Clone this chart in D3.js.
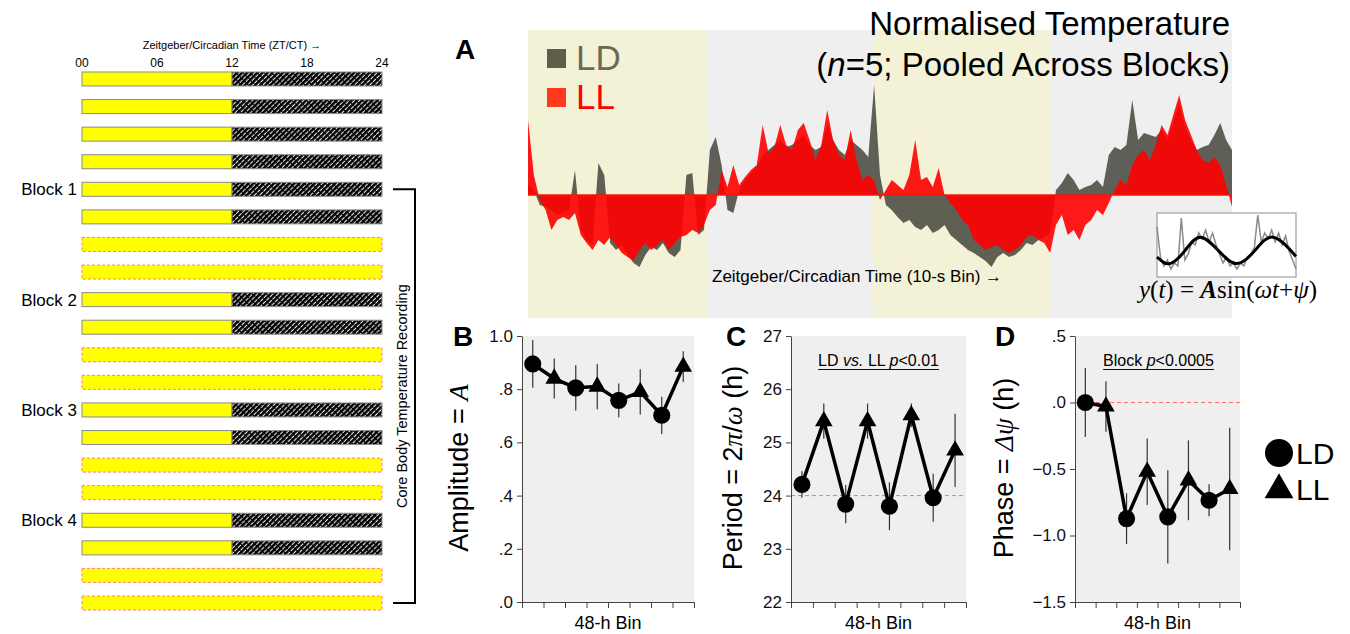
<!DOCTYPE html>
<meta charset="utf-8">
<html>
<head>
  <title>Normalised Temperature</title>
  <style>
    body { margin: 0; background: #fff; }
    svg { display: block; font-family: "Liberation Sans", Arial, sans-serif; }
  </style>
</head>
<body>
<script src="https://d3js.org/d3.v7.min.js"></script>
<script>

/*
    Data
*/
// left schedule: one row per day
var scheduleRows = ["LD","LD","LD","LD","LD","LD","LL","LL","LD","LD",
                    "LL","LL","LD","LD","LL","LL","LD","LD","LL","LL"];
var blockRows = [4, 8, 12, 16];
var blockNames = ["Block 1", "Block 2", "Block 3", "Block 4"];
var ztTicks = [0, 6, 12, 18, 24];
var ztLabels = ["00", "06", "12", "18", "24"];

// panel A: 48 h, one value every 0.4 h
var hours = d3.range(121).map(function(i){ return i * 0.4; });
var bandStart = [0, 12.2, 23.5, 35.6];
var bandEnd   = [12.2, 23.5, 35.6, 48];
var bandPhase = ["light", "dark", "light", "dark"];

var ldTemp = [0.20,0.10,-0.20,-0.24,-0.30,-0.40,-0.36,-0.30,0.50,-0.70,
  -0.90,-1.00,0.64,0.40,-0.96,-1.10,-1.00,-1.20,-1.36,-1.44,
  -1.20,-1.04,-1.10,-0.96,-1.16,-1.24,-1.10,0.40,0.44,-0.80,
  -0.70,0.90,1.16,0.60,-0.30,-0.36,0.10,0.30,0.44,0.56,
  0.80,0.90,1.00,1.10,0.96,1.00,1.10,1.20,1.00,0.90,
  0.96,1.40,1.10,0.90,0.80,1.10,1.00,0.90,0.76,2.20,
  0.40,-0.20,-0.30,-0.44,-0.56,-0.50,-0.64,-0.70,-0.60,-0.76,
  -0.70,-0.60,-0.80,-0.90,-1.00,-1.10,-1.16,-1.24,-1.32,-1.44,
  -1.24,-1.16,-1.24,-1.20,-1.10,-0.96,-1.00,-0.90,-0.84,-0.76,
  0.10,0.24,0.44,0.30,0.10,0.16,0.20,0.30,0.16,0.80,
  0.96,0.90,1.00,1.90,1.10,1.24,1.20,1.16,1.30,1.10,
  1.44,1.80,1.36,1.10,0.90,0.96,1.00,1.20,1.44,1.10,
  0.90];

var llTemp = [1.50,0.40,-0.10,-0.30,-0.70,-0.50,-0.44,-0.50,-0.36,-0.80,
  -0.96,-1.10,-0.90,-1.00,-0.84,-1.00,-1.16,-1.24,-1.32,-1.10,
  -0.96,-1.10,-1.00,-0.90,-1.10,-0.96,-0.84,-0.80,-0.70,-0.76,
  -0.60,-0.30,-0.20,0.50,0.16,0.60,0.20,0.36,0.50,0.60,
  1.40,0.84,0.96,1.40,1.00,0.90,1.30,1.44,1.10,0.70,
  1.00,1.70,1.10,0.80,0.70,1.30,0.70,0.30,0.40,0.30,
  -0.10,0.10,0.30,0.20,0.10,0.40,1.10,0.30,0.36,0.16,
  0.54,0.00,-0.16,-0.30,-0.50,-0.60,-0.90,-1.00,-1.10,-1.04,
  -1.00,-1.10,-1.16,-1.10,-1.00,-0.84,-0.80,-0.90,-0.96,-1.16,
  -0.60,-0.40,-0.80,-0.70,-0.90,-0.60,-0.50,-0.30,-0.40,-0.16,
  0.10,0.30,0.20,0.60,0.80,0.90,0.70,1.00,1.40,1.20,
  1.60,2.00,1.50,1.20,0.90,0.70,0.64,0.76,0.60,0.20,
  -0.24];

// inset: raw trace and fitted sinusoid (levels 0..1 of the inset box)
var insetTrace = [0.80,0.30,0.15,0.25,0.10,0.20,0.15,0.95,0.25,0.35,
  0.55,0.50,0.70,0.60,0.75,0.55,0.70,0.50,0.35,0.20,
  0.30,0.15,0.20,0.10,0.20,0.15,0.30,0.35,0.45,1.00,
  0.55,0.70,0.60,0.75,0.55,0.70,0.50,0.65,0.40,0.25,0.10];
var fitX = [0, 3.7, 8.1, 12.4, 17.6, 23.0, 28.2, 33.4, 40];
var fitY = [0.30, 0.19, 0.41, 0.63, 0.41, 0.19, 0.41, 0.63, 0.31];

// panels B-D: eight 48-h bins, alternating LD / LL
var binGroup = ["LD","LL","LD","LL","LD","LL","LD","LL"];
var ampMean = [0.895, 0.84, 0.805, 0.81, 0.758, 0.79, 0.702, 0.885];
var ampSem  = [0.09, 0.075, 0.085, 0.085, 0.063, 0.085, 0.07, 0.058];
var perMean = [24.21, 25.40, 23.84, 25.40, 23.80, 25.51, 23.96, 24.85];
var perSem  = [0.25, 0.33, 0.36, 0.33, 0.45, 0.22, 0.45, 0.69];
var phaMean = [0.0, -0.03, -0.873, -0.52, -0.86, -0.585, -0.735, -0.65];
var phaSem  = [0.26, 0.19, 0.19, 0.25, 0.35, 0.30, 0.12, 0.46];

var ampTicks = [0, 0.2, 0.4, 0.6, 0.8, 1.0];
var perTicks = [22, 23, 24, 25, 26, 27];
var phaTicks = [-1.5, -1.0, -0.5, 0, 0.5];

var svg = d3.select("body").append("svg")
    .attr("width", 1350)
    .attr("height", 634);

var defs = svg.append("defs");

/*
    Left: light schedule
*/
var hatch = defs.append("pattern")
    .attr("id", "hatch")
    .attr("patternUnits", "userSpaceOnUse")
    .attr("width", 3.6)
    .attr("height", 10)
    .attr("patternTransform", "rotate(45)");
hatch.append("rect").attr("width", 3.6).attr("height", 10).attr("fill", "#000");
hatch.append("line")
    .attr("x1", 1.2).attr("y1", 0).attr("x2", 1.2).attr("y2", 10)
    .attr("stroke", "#fff")
    .attr("stroke-width", 1)
    .attr("stroke-dasharray", "4,1");

var zx = d3.scaleLinear().domain([0, 24]).range([82, 382]);
var rowY = d3.scaleLinear().domain([0, 19]).range([72, 596]);
var barH = 14;

var sched = svg.append("g").attr("class", "schedule");

sched.append("text")
    .attr("x", zx(12)).attr("y", 49)
    .attr("text-anchor", "middle")
    .style("font-size", "11px")
    .text("Zeitgeber/Circadian Time (ZT/CT) \u2192");

sched.selectAll("text.zt")
    .data(ztTicks)
  .enter().append("text")
    .attr("class", "zt")
    .attr("x", function(d){ return zx(d); })
    .attr("y", 67)
    .attr("text-anchor", "middle")
    .style("font-size", "12px")
    .text(function(d, i){ return ztLabels[i]; });

scheduleRows.forEach(function(type, i){
  var y0 = rowY(i);
  if (type == "LD") {
    sched.append("rect")
        .attr("x", zx(0)).attr("y", y0)
        .attr("width", zx(12) - zx(0)).attr("height", barH)
        .attr("fill", "#ffff00")
        .attr("stroke", "#8a8a8a");
    sched.append("rect")
        .attr("x", zx(12)).attr("y", y0)
        .attr("width", zx(24) - zx(12)).attr("height", barH)
        .attr("fill", "url(#hatch)")
        .attr("stroke", "#8a8a8a");
  } else {
    sched.append("rect")
        .attr("x", zx(0)).attr("y", y0)
        .attr("width", zx(24) - zx(0)).attr("height", barH)
        .attr("fill", "#ffff00")
        .attr("stroke", "#ff8080")
        .attr("stroke-dasharray", "3,2");
  }
});

sched.selectAll("text.block")
    .data(blockRows)
  .enter().append("text")
    .attr("class", "block")
    .attr("x", 77)
    .attr("y", function(d){ return rowY(d) + barH / 2 + 6; })
    .attr("text-anchor", "end")
    .style("font-size", "17px")
    .text(function(d, i){ return blockNames[i]; });

// bracket for the recording period
var brTop = rowY(blockRows[0]) + barH / 2,
    brBot = rowY(19) + barH / 2;
sched.append("path")
    .attr("d", "M393," + brTop + "H415V" + brBot + "H393")
    .attr("fill", "none")
    .attr("stroke", "#000")
    .attr("stroke-width", 2);
sched.append("text")
    .attr("transform", "translate(407," + ((brTop + brBot) / 2) + ") rotate(-90)")
    .attr("text-anchor", "middle")
    .style("font-size", "14.5px")
    .text("Core Body Temperature Recording");

/*
    Panel A: pooled temperature trace
*/
var tx = d3.scaleLinear().domain([0, 48]).range([528, 1232]);
var ty = d3.scaleLinear().domain([-3, 3]).range([345, 45]);
var gA = svg.append("g").attr("class", "panelA");

gA.selectAll("rect.band")
    .data(bandStart)
  .enter().append("rect")
    .attr("class", "band")
    .attr("x", function(d){ return tx(d); })
    .attr("y", 30)
    .attr("width", function(d, i){ return tx(bandEnd[i]) - tx(d); })
    .attr("height", 288)
    .attr("fill", function(d, i){ return bandPhase[i] == "light" ? "#f3f2d6" : "#efefef"; });

var area = d3.area()
    .x(function(d, i){ return tx(hours[i]); })
    .y0(ty(0))
    .y1(function(d){ return ty(d); });

gA.append("path").datum(ldTemp)
    .attr("d", area)
    .attr("fill", "#45453d")
    .attr("fill-opacity", 0.85);
gA.append("path").datum(llTemp)
    .attr("d", area)
    .attr("fill", "#ff0000")
    .attr("fill-opacity", 0.9);
gA.append("line")
    .attr("x1", tx(0)).attr("x2", tx(48))
    .attr("y1", ty(0)).attr("y2", ty(0))
    .attr("stroke", "#f01a0a")
    .attr("stroke-width", 1.5);

gA.append("text")
    .attr("x", 455).attr("y", 59)
    .style("font-size", "28px").style("font-weight", "bold")
    .text("A");

gA.append("text")
    .attr("x", 1230).attr("y", 35)
    .attr("text-anchor", "end")
    .style("font-size", "33px")
    .text("Normalised Temperature");
var t2 = gA.append("text")
    .attr("x", 1230).attr("y", 76)
    .attr("text-anchor", "end")
    .style("font-size", "33px");
t2.append("tspan").text("(");
t2.append("tspan").style("font-style", "italic").text("n");
t2.append("tspan").text("=5; Pooled Across Blocks)");

// legend
gA.append("rect").attr("x", 547).attr("y", 49).attr("width", 19).attr("height", 19).attr("fill", "#5e5e4a");
gA.append("text").attr("x", 576).attr("y", 70).style("font-size", "35px").attr("fill", "#6a6a55").text("LD");
gA.append("rect").attr("x", 547).attr("y", 88).attr("width", 19).attr("height", 19).attr("fill", "#ff3a1e");
gA.append("text").attr("x", 576).attr("y", 109).style("font-size", "35px").attr("fill", "#ff0000").text("LL");

gA.append("text")
    .attr("x", 712).attr("y", 282)
    .style("font-size", "17px")
    .text("Zeitgeber/Circadian Time (10-s Bin) \u2192");

// inset with the cosinor fit
var ix = d3.scaleLinear().domain([0, 40]).range([1157, 1296]);
var iy = d3.scaleLinear().domain([0, 1]).range([275, 215]);
gA.append("rect")
    .attr("x", 1157).attr("y", 213).attr("width", 139).attr("height", 64)
    .attr("fill", "#fff")
    .attr("stroke", "#8c8c8c");
gA.append("path").datum(insetTrace)
    .attr("d", d3.line().x(function(d, i){ return ix(i); }).y(function(d){ return iy(d); }))
    .attr("fill", "none")
    .attr("stroke", "#8a8a8a")
    .attr("stroke-width", 1.5);
gA.append("path").datum(fitY)
    .attr("d", d3.line().curve(d3.curveNatural)
        .x(function(d, i){ return ix(fitX[i]); })
        .y(function(d){ return iy(d); }))
    .attr("fill", "none")
    .attr("stroke", "#000")
    .attr("stroke-width", 3);

var fx = gA.append("text")
    .attr("x", 1228).attr("y", 298)
    .attr("text-anchor", "middle")
    .style("font-family", "'Liberation Serif', 'Times New Roman', serif")
    .style("font-size", "25px");
fx.append("tspan").style("font-style", "italic").text("y");
fx.append("tspan").text("(");
fx.append("tspan").style("font-style", "italic").text("t");
fx.append("tspan").text(") = ");
fx.append("tspan").style("font-style", "italic").style("font-weight", "bold").text("A");
fx.append("tspan").text("sin(");
fx.append("tspan").style("font-style", "italic").text("\u03c9t");
fx.append("tspan").text("+");
fx.append("tspan").style("font-style", "italic").text("\u03c8");
fx.append("tspan").text(")");

/*
    Panels B, C, D: cosinor parameters per 48-h bin
*/
function shortNum(d) {
  return d3.format(".1f")(d).replace(/^(-?)0\./, "$1.");
}

var italicSerif = "'Liberation Serif', 'Times New Roman', serif";

function drawPanel(p) {
  var g = svg.append("g");
  var x = d3.scaleLinear().domain([0, 8]).range([p.left, p.right]);
  var y = d3.scaleLinear().domain(p.domain).range([602, 336]);

  g.append("rect")
      .attr("x", p.left).attr("y", 336)
      .attr("width", p.right - p.left).attr("height", 266)
      .attr("fill", "#efefef");

  if (p.ref != null) {
    g.append("line")
        .attr("x1", p.left).attr("x2", p.right)
        .attr("y1", y(p.ref)).attr("y2", y(p.ref))
        .attr("stroke", "#ff6a6a")
        .attr("stroke-dasharray", "4,3");
  }

  var yAxis = g.append("g")
      .attr("transform", "translate(" + p.left + ",0)")
      .call(d3.axisLeft(y).tickValues(p.ticks).tickFormat(p.format).tickSize(5).tickSizeOuter(0).tickPadding(4));
  var xAxis = g.append("g")
      .attr("transform", "translate(0,602)")
      .call(d3.axisBottom(x).tickValues(d3.range(9)).tickFormat("").tickSize(6).tickSizeOuter(0));
  g.selectAll(".domain, .tick line").attr("stroke", "#444");
  yAxis.selectAll("text").style("font-size", "17px").attr("fill", "#111");

  // error bars
  g.selectAll("line.err")
      .data(p.mean)
    .enter().append("line")
      .attr("class", "err")
      .attr("x1", function(d, i){ return x(i + 0.5); })
      .attr("x2", function(d, i){ return x(i + 0.5); })
      .attr("y1", function(d, i){ return y(d - p.sem[i]); })
      .attr("y2", function(d, i){ return y(d + p.sem[i]); })
      .attr("stroke", "#333")
      .attr("stroke-width", 1.2);

  g.append("path").datum(p.mean)
      .attr("d", d3.line().x(function(d, i){ return x(i + 0.5); }).y(function(d){ return y(d); }))
      .attr("fill", "none")
      .attr("stroke", "#000")
      .attr("stroke-width", 3.5)
      .attr("stroke-linejoin", "round");

  g.selectAll("path.mark")
      .data(p.mean)
    .enter().append("path")
      .attr("class", "mark")
      .attr("transform", function(d, i){ return "translate(" + x(i + 0.5) + "," + y(d) + ")"; })
      .attr("d", function(d, i){
        return binGroup[i] == "LD"
          ? d3.symbol().type(d3.symbolCircle).size(230)()
          : d3.symbol().type(d3.symbolTriangle).size(135)();
      })
      .attr("fill", "#000");

  g.append("text")
      .attr("x", (p.left + p.right) / 2).attr("y", 629)
      .attr("text-anchor", "middle")
      .style("font-size", "18px")
      .text("48-h Bin");

  g.append("text")
      .attr("x", p.letterX).attr("y", 346)
      .style("font-size", "28px").style("font-weight", "bold")
      .text(p.letter);

  var yl = g.append("text")
      .attr("transform", "translate(" + p.labelX + ",468) rotate(-90)")
      .attr("text-anchor", "middle")
      .style("font-size", "27px");
  p.label.forEach(function(part){
    var ts = yl.append("tspan").text(part[0]);
    if (part[1]) ts.style("font-style", "italic").style("font-family", italicSerif);
  });

  if (p.note) {
    var nt = g.append("text")
        .attr("x", (p.left + p.right) / 2 + p.noteShift).attr("y", 366)
        .attr("text-anchor", "middle")
        .style("font-size", "16px");
    p.note.forEach(function(part){
      var ts = nt.append("tspan").text(part[0]);
      if (part[1]) ts.style("font-style", "italic");
    });
    var bb = nt.node().getBBox();
    g.append("line")
        .attr("x1", bb.x).attr("x2", bb.x + bb.width)
        .attr("y1", 369.5).attr("y2", 369.5)
        .attr("stroke", "#111")
        .attr("stroke-width", 1.2);
  }
}

drawPanel({
  left: 522, right: 694, domain: [0, 1], ticks: ampTicks, format: shortNum,
  mean: ampMean, sem: ampSem, ref: null,
  letter: "B", letterX: 453, labelX: 468,
  label: [["Amplitude = ", false], ["A", true]]
});

drawPanel({
  left: 791, right: 966, domain: [22, 27], ticks: perTicks, format: d3.format("d"),
  mean: perMean, sem: perSem, ref: 24,
  letter: "C", letterX: 726, labelX: 742,
  label: [["Period = 2", false], ["\u03c0", true], ["/", false], ["\u03c9", true], [" (h)", false]],
  note: [["LD ", false], ["vs.", true], [" LL ", false], ["p", true], ["<0.01", false]], noteShift: 0
});

drawPanel({
  left: 1075, right: 1240, domain: [-1.5, 0.5], ticks: phaTicks, format: shortNum,
  mean: phaMean, sem: phaSem, ref: 0,
  letter: "D", letterX: 995, labelX: 1013,
  label: [["Phase = ", false], ["\u0394\u03c8", true], [" (h)", false]],
  note: [["Block ", false], ["p", true], ["<0.0005", false]], noteShift: 1
});

// shared legend for B-D
var lg = svg.append("g");
lg.append("path")
    .attr("transform", "translate(1279,453)")
    .attr("d", d3.symbol().type(d3.symbolCircle).size(615)())
    .attr("fill", "#000");
lg.append("path")
    .attr("transform", "translate(1279,490)")
    .attr("d", d3.symbol().type(d3.symbolTriangle).size(360)())
    .attr("fill", "#000");
lg.append("text").attr("x", 1296).attr("y", 464).style("font-size", "30px").text("LD");
lg.append("text").attr("x", 1296).attr("y", 500).style("font-size", "30px").text("LL");

</script>
</body>
</html>
